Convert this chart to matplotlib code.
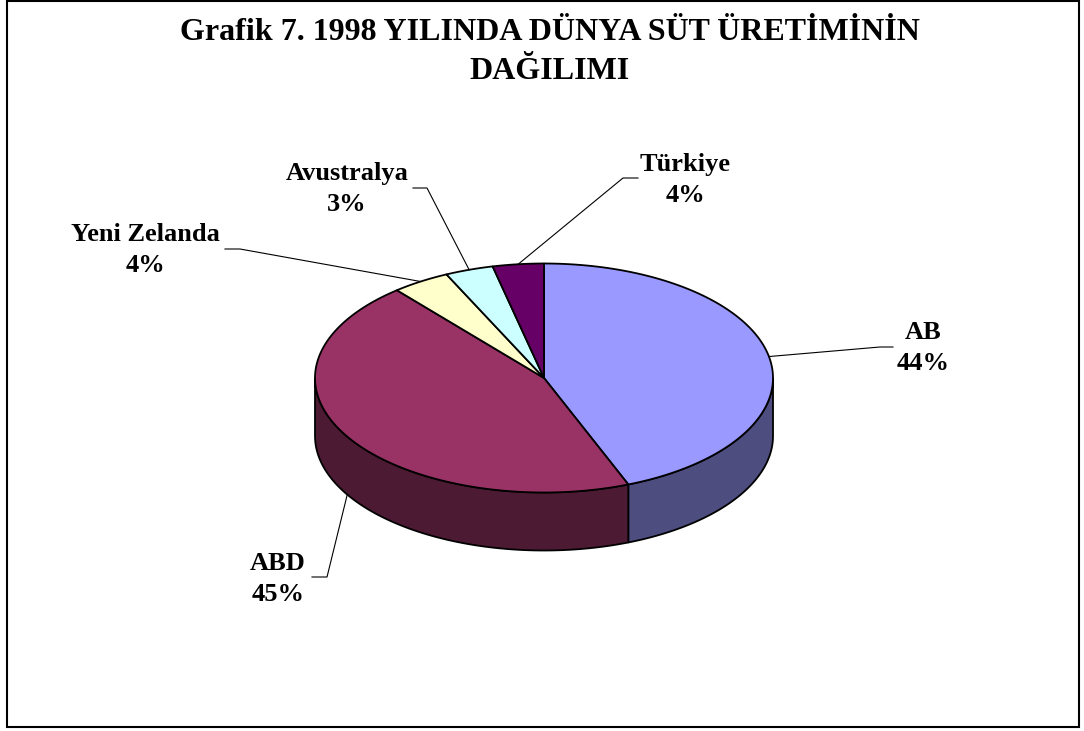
import numpy as np
import matplotlib
matplotlib.use('Agg')
import matplotlib.pyplot as plt
from matplotlib.patches import Polygon, Rectangle

# data (shares in %)
categories = ['AB', 'ABD', 'Yeni Zelanda', 'Avustralya', 'Türkiye']
shares = [44.0, 44.9, 4.1, 3.4, 3.6]
top_colors = ['#9999FF', '#993366', '#FFFFCC', '#CCFFFF', '#660066']
side_colors = ['#4D4D80', '#4D1A33', '#80806A', '#6A8080', '#330033']

# layout (pixel coordinates)
cx, cy, rx, ry, depth = 544, 378, 229, 114.5, 58
label_pos = [(923, 348), (278, 579), (145, 250), (347, 189), (685, 180)]
elbow = [(880, 347), (327, 577), (240, 249), (427, 188), (623, 178)]
line_end = [(893, 347), (312, 577), (225, 249), (413, 188), (638, 178)]

fig = plt.figure(figsize=(10.84, 7.31), dpi=100)
ax = fig.add_axes([0, 0, 1, 1])
ax.set_xlim(0, 1084)
ax.set_ylim(731, 0)
ax.axis('off')


def rim(t, dz=0):
    r = np.radians(t)
    return cx + rx * np.cos(r), cy - ry * np.sin(r) + dz


total = sum(shares)
starts = []
a = 90.0
for s in shares:
    starts.append((a, a - s / total * 360))
    a -= s / total * 360

# side walls (front half only)
for (a0, a1), col in zip(starts, side_colors):
    for k in range(-2, 2):
        lo, hi = k * 360 - 180, k * 360
        b0, b1 = min(a0, hi), max(a1, lo)
        if b0 - b1 <= 0:
            continue
        t = np.linspace(b0, b1, 80)
        xs, ys = rim(t)
        xb, yb = rim(t[::-1], depth)
        pts = np.column_stack([np.concatenate([xs, xb]), np.concatenate([ys, yb])])
        ax.add_patch(Polygon(pts, closed=True, facecolor=col, edgecolor='black', lw=1.3, joinstyle='round'))

# top face
for (a0, a1), col in zip(starts, top_colors):
    t = np.linspace(a0, a1, 120)
    xs, ys = rim(t)
    pts = np.column_stack([np.concatenate([[cx], xs]), np.concatenate([[cy], ys])])
    ax.add_patch(Polygon(pts, closed=True, facecolor=col, edgecolor='black', lw=1.3, joinstyle='round'))

# labels with leader lines
for i, (a0, a1) in enumerate(starts):
    mid = (a0 + a1) / 2
    px, py = rim(mid)
    if np.sin(np.radians(mid)) < 0:
        py += depth
    ax.plot([px, elbow[i][0], line_end[i][0]], [py, elbow[i][1], line_end[i][1]],
            color='black', lw=0.8)
    ax.text(label_pos[i][0], label_pos[i][1],
            '%s\n%.0f%%' % (categories[i], shares[i] / total * 100),
            ha='center', va='center', fontsize=19, fontweight='bold',
            family='Liberation Serif', linespacing=1.45)

ax.text(550, 52, 'Grafik 7. 1998 YILINDA DÜNYA SÜT ÜRETİMİNİN\nDAĞILIMI',
        ha='center', va='center', fontsize=23, fontweight='bold',
        family='Liberation Serif', linespacing=1.42)

ax.add_patch(Rectangle((7, 1), 1072, 726, fill=False, edgecolor='black', lw=1.5))

fig.savefig('out.png', dpi=100)
